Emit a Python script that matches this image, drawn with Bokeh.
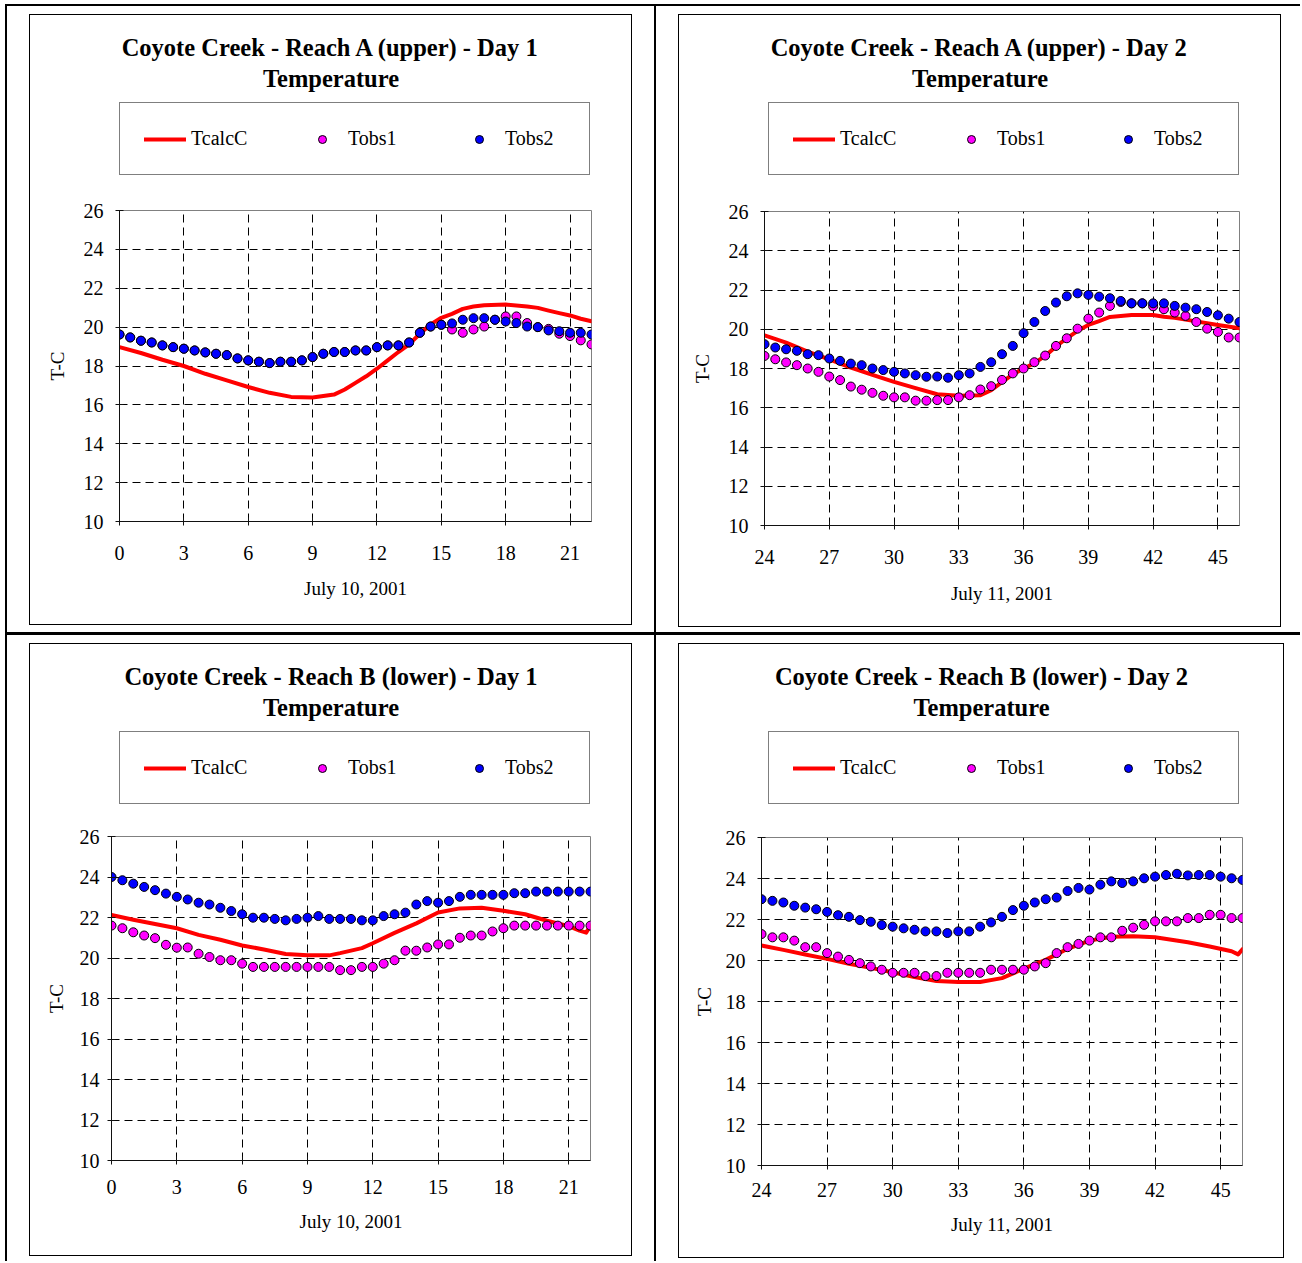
from bokeh.plotting import figure
from bokeh.models import Range1d, FixedTicker, Label, Legend, LegendItem, Row, Column
from bokeh.embed import file_html
from bokeh.resources import INLINE

FONT = "Liberation Serif"

# ---------------- data ----------------
day1_hours = [0, 0.5, 1, 1.5, 2, 2.5, 3, 3.5, 4, 4.5, 5, 5.5, 6, 6.5, 7, 7.5, 8, 8.5, 9, 9.5,
              10, 10.5, 11, 11.5, 12, 12.5, 13, 13.5, 14, 14.5, 15, 15.5, 16, 16.5, 17, 17.5,
              18, 18.5, 19, 19.5, 20, 20.5, 21, 21.5, 22]
day2_hours = [24, 24.5, 25, 25.5, 26, 26.5, 27, 27.5, 28, 28.5, 29, 29.5, 30, 30.5, 31, 31.5,
              32, 32.5, 33, 33.5, 34, 34.5, 35, 35.5, 36, 36.5, 37, 37.5, 38, 38.5, 39, 39.5,
              40, 40.5, 41, 41.5, 42, 42.5, 43, 43.5, 44, 44.5, 45, 45.5, 46]
day1_ticks = [0, 3, 6, 9, 12, 15, 18, 21]
day2_ticks = [24, 27, 30, 33, 36, 39, 42, 45]
y_ticks = [10, 12, 14, 16, 18, 20, 22, 24, 26]

# Reach A - Day 1
a1_tobs1 = [19.62, 19.47, 19.30, 19.21, 19.06, 18.97, 18.89, 18.80, 18.70, 18.63,
            18.56, 18.39, 18.29, 18.22, 18.15, 18.22, 18.22, 18.29, 18.46, 18.63,
            18.72, 18.72, 18.80, 18.80, 18.97, 19.06, 19.06, 19.21, 19.71, 20.03,
            20.12, 19.88, 19.71, 19.88, 20.03, 20.38, 20.55, 20.55, 20.21, 20.00,
            19.91, 19.66, 19.54, 19.32, 19.11]
a1_tobs2 = [19.62, 19.47, 19.30, 19.21, 19.06, 18.97, 18.89, 18.80, 18.70, 18.63,
            18.56, 18.39, 18.29, 18.22, 18.15, 18.22, 18.22, 18.29, 18.46, 18.63,
            18.72, 18.72, 18.80, 18.80, 18.97, 19.06, 19.06, 19.21, 19.71, 20.03,
            20.12, 20.19, 20.38, 20.46, 20.46, 20.38, 20.29, 20.21, 20.03, 20.00,
            19.83, 19.79, 19.71, 19.71, 19.62]
a1_calc_hours = [0, 1, 2, 3, 4, 5, 6, 7, 8, 9, 10, 10.5, 11, 11.5, 12, 12.5, 13, 13.5, 14,
                 14.5, 15, 15.5, 16, 16.5, 17, 18, 19, 19.5, 20, 20.5, 21, 21.5, 22]
a1_calc = [18.97, 18.67, 18.32, 18.00, 17.60, 17.26, 16.92, 16.62, 16.41, 16.38, 16.53,
           16.79, 17.13, 17.47, 17.86, 18.29, 18.72, 19.11, 19.66, 20.14, 20.48, 20.68,
           20.94, 21.06, 21.13, 21.16, 21.06, 20.99, 20.85, 20.72, 20.60, 20.43, 20.30]

# Reach A - Day 2
a2_tobs1 = [18.64, 18.47, 18.31, 18.17, 18.00, 17.83, 17.59, 17.41, 17.08, 16.92,
            16.76, 16.61, 16.53, 16.53, 16.36, 16.36, 16.39, 16.39, 16.53, 16.64,
            16.93, 17.10, 17.42, 17.75, 18.00, 18.32, 18.66, 19.15, 19.54, 20.03,
            20.54, 20.85, 21.19, 21.39, 21.32, 21.32, 21.17, 21.02, 20.85, 20.68,
            20.37, 20.03, 19.86, 19.58, 19.58]
a2_tobs2 = [19.24, 19.07, 18.98, 18.90, 18.73, 18.68, 18.51, 18.39, 18.25, 18.17,
            18.00, 17.92, 17.83, 17.75, 17.66, 17.58, 17.59, 17.53, 17.66, 17.75,
            18.08, 18.32, 18.73, 19.15, 19.80, 20.37, 20.93, 21.36, 21.68, 21.83,
            21.75, 21.66, 21.58, 21.44, 21.32, 21.32, 21.32, 21.32, 21.19, 21.10,
            21.02, 20.88, 20.71, 20.54, 20.37]
a2_calc_hours = [24, 25, 26, 27, 28, 29, 30, 31, 32, 33, 34, 34.5, 35, 35.5, 36, 36.5, 37,
                 37.5, 38, 38.5, 39, 39.5, 40, 41, 42, 42.5, 43, 44, 45, 46]
a2_calc = [19.69, 19.32, 18.86, 18.47, 18.05, 17.68, 17.32, 17.00, 16.69, 16.61, 16.64,
           16.90, 17.30, 17.70, 18.00, 18.27, 18.64, 19.12, 19.54, 19.92, 20.22, 20.42,
           20.63, 20.73, 20.73, 20.64, 20.58, 20.40, 20.22, 20.05]

# Reach B - Day 1
b1_tobs1 = [21.60, 21.47, 21.27, 21.11, 20.98, 20.65, 20.51, 20.52, 20.21, 20.05,
            19.89, 19.89, 19.72, 19.56, 19.56, 19.56, 19.56, 19.56, 19.56, 19.56,
            19.56, 19.40, 19.40, 19.56, 19.56, 19.72, 19.89, 20.36, 20.36, 20.52,
            20.67, 20.67, 21.00, 21.11, 21.11, 21.31, 21.47, 21.60, 21.60, 21.60,
            21.60, 21.60, 21.60, 21.60, 21.60]
b1_tobs2 = [24.00, 23.84, 23.67, 23.51, 23.35, 23.18, 23.02, 22.89, 22.73, 22.64,
            22.48, 22.32, 22.16, 21.99, 21.99, 21.93, 21.86, 21.93, 21.99, 22.07,
            21.93, 21.93, 21.93, 21.86, 21.86, 22.07, 22.16, 22.24, 22.64, 22.81,
            22.73, 22.81, 23.02, 23.12, 23.12, 23.12, 23.12, 23.20, 23.20, 23.28,
            23.28, 23.28, 23.28, 23.28, 23.28]
b1_calc_hours = [0, 1, 2, 3, 4, 5, 6, 7, 8, 9, 10, 10.5, 11.5, 12, 13, 14, 15, 16, 17, 18,
                 19, 20, 21, 21.5, 21.8, 22]
b1_calc = [22.12, 21.89, 21.68, 21.47, 21.14, 20.90, 20.62, 20.42, 20.20, 20.13, 20.13,
           20.24, 20.49, 20.73, 21.24, 21.71, 22.25, 22.45, 22.48, 22.33, 22.16, 21.84,
           21.57, 21.35, 21.25, 21.60]

# Reach B - Day 2
b2_tobs1 = [21.29, 21.13, 21.13, 20.97, 20.65, 20.65, 20.36, 20.19, 20.03, 19.87,
            19.71, 19.55, 19.40, 19.40, 19.40, 19.24, 19.24, 19.40, 19.40, 19.40,
            19.40, 19.55, 19.55, 19.55, 19.55, 19.71, 19.87, 20.36, 20.65, 20.81,
            20.97, 21.13, 21.13, 21.45, 21.60, 21.74, 21.91, 21.91, 21.91, 22.07,
            22.07, 22.23, 22.23, 22.07, 22.07]
b2_tobs2 = [22.99, 22.91, 22.83, 22.67, 22.58, 22.50, 22.37, 22.21, 22.13, 21.97,
            21.89, 21.73, 21.65, 21.57, 21.50, 21.42, 21.42, 21.34, 21.42, 21.42,
            21.65, 21.86, 22.13, 22.46, 22.67, 22.83, 22.99, 23.07, 23.39, 23.54,
            23.46, 23.70, 23.86, 23.78, 23.86, 24.01, 24.09, 24.17, 24.23, 24.15,
            24.17, 24.17, 24.09, 24.01, 23.93]
b2_calc_hours = [24, 25, 26, 27, 28, 29, 30, 31, 32, 33, 34, 35, 36, 37, 38, 39, 40, 41, 42,
                 43.5, 44.5, 45.5, 45.8, 46]
b2_calc = [20.73, 20.52, 20.29, 20.08, 19.84, 19.64, 19.43, 19.19, 19.00, 18.95, 18.95,
           19.14, 19.60, 20.03, 20.57, 20.97, 21.16, 21.18, 21.13, 20.89, 20.68, 20.45,
           20.30, 20.55]

titles = ["Coyote Creek - Reach A (upper) - Day 1", "Coyote Creek - Reach A (upper) - Day 2",
          "Coyote Creek - Reach B (lower) - Day 1", "Coyote Creek - Reach B (lower) - Day 2"]
subtitle = "Temperature"
x_labels = ["July 10, 2001", "July 11, 2001", "July 10, 2001", "July 11, 2001"]
y_label = "T-C"
series_names = ["TcalcC", "Tobs1", "Tobs2"]

CALC_STYLE = dict(line_color="#FF0000", line_width=4, line_join="round", line_cap="round")
OBS1_STYLE = dict(marker="circle", size=9, fill_color="#FF00FF", line_color="black", line_width=1)
OBS2_STYLE = dict(marker="circle", size=9, fill_color="#0000FF", line_color="black", line_width=1)
PAD_TOP = 15  # room above the plot frame for the top tick label


def make_chart(title, xlabel, hours, ticks, tobs1, tobs2, calc_hours, calc, geom, axcfg, margin):
    cw, ch, fl, ft, fw, fh = geom
    xs, xls, ys, yls = axcfg

    # ----- header: titles + legend (frame is aligned with the plot frame below) -----
    hh = ft - PAD_TOP
    hdr = figure(width=cw, height=hh, x_range=Range1d(0, 1), y_range=Range1d(0, 1),
                 output_backend="svg", toolbar_location=None, min_border=0,
                 x_axis_location=None, y_axis_location=None)
    hdr.outline_line_color = None
    hdr.grid.visible = False
    hdr.background_fill_color = "white"
    hdr.border_fill_color = "white"
    # same series, outside this header's view: used only for the legend swatches
    lr = hdr.line(calc_hours, calc, **CALC_STYLE)
    s1 = hdr.scatter(hours, tobs1, **OBS1_STYLE)
    s2 = hdr.scatter(hours, tobs2, **OBS2_STYLE)
    for txt, cy in ((title, 32), (subtitle, 63)):
        hdr.add_layout(Label(x=cw / 2 - fl, y=hh - cy, x_units="screen", y_units="screen",
                             text=txt, text_font=FONT, text_font_size="24.5px",
                             text_font_style="bold", text_align="center",
                             text_baseline="middle", text_color="black"))
    legend = Legend(items=[LegendItem(label=series_names[0], renderers=[lr]),
                           LegendItem(label=series_names[1], renderers=[s1]),
                           LegendItem(label=series_names[2], renderers=[s2])],
                    orientation="horizontal", location=(max(0, 89 - fl), hh - 160),
                    padding=24, spacing=50, glyph_width=42, glyph_height=20,
                    label_width=60, label_height=20, label_standoff=5, margin=0,
                    label_text_font=FONT, label_text_font_size="20px",
                    label_text_color="black", border_line_color="black",
                    border_line_width=1, background_fill_color="white",
                    background_fill_alpha=1.0)
    hdr.add_layout(legend, "center")

    # ----- plot -----
    ph = ch - ft + PAD_TOP
    p = figure(width=cw, height=ph, x_range=Range1d(hours[0], hours[-1]),
               y_range=Range1d(y_ticks[0], y_ticks[-1]), output_backend="svg",
               toolbar_location=None, min_border_left=fl, min_border_top=PAD_TOP,
               min_border_right=cw - fl - fw, min_border_bottom=ch - ft - fh)
    p.background_fill_color = "white"
    p.border_fill_color = "white"
    p.outline_line_color = "#808080"
    p.outline_line_width = 1

    for ax, tk in ((p.xaxis[0], ticks), (p.yaxis[0], y_ticks)):
        ax.ticker = FixedTicker(ticks=tk)
        ax.major_label_text_font = FONT
        ax.major_label_text_font_size = "20px"
        ax.major_label_text_color = "black"
        ax.axis_label_text_font = FONT
        ax.axis_label_text_font_size = "19px"
        ax.axis_label_text_font_style = "normal"
        ax.axis_label_text_color = "black"
        ax.major_tick_in = 4
        ax.major_tick_out = 4
        ax.minor_tick_line_color = None
        ax.axis_line_color = "#111111"
        ax.major_tick_line_color = "#111111"
    p.xaxis[0].axis_label = xlabel
    p.xaxis[0].major_label_standoff = xs
    p.xaxis[0].axis_label_standoff = xls
    p.yaxis[0].axis_label = y_label
    p.yaxis[0].major_label_standoff = ys
    p.yaxis[0].axis_label_standoff = yls

    p.xgrid.ticker = FixedTicker(ticks=ticks[1:])
    p.ygrid.ticker = FixedTicker(ticks=y_ticks[1:-1])
    for g in (p.xgrid, p.ygrid):
        g.grid_line_color = "black"
        g.grid_line_dash = "8 5"
        g.grid_line_width = 1

    p.line(calc_hours, calc, **CALC_STYLE)
    p.scatter(hours, tobs1, **OBS1_STYLE)
    p.scatter(hours, tobs2, **OBS2_STYLE)

    return Column(children=[hdr, p], margin=margin, styles={"border": "1px solid #000"})


# canvas w, canvas h, frame left, frame top, frame w, frame h
geoms = [(601, 609, 89, 195, 472, 311),
         (601, 611, 85, 196, 475, 314),
         (601, 611, 81, 192, 479, 324),
         (604, 613, 82, 193, 481, 328)]
# x tick standoff, x label standoff, y tick standoff, y label standoff
axcfgs = [(20, 15, 12, 13), (20, 16, 12, 13), (15, 14, 8, 10), (13, 14, 12, 8)]

c1 = make_chart(titles[0], x_labels[0], day1_hours, day1_ticks, a1_tobs1, a1_tobs2,
                a1_calc_hours, a1_calc, geoms[0], axcfgs[0], (8, 22, 7, 22))
c2 = make_chart(titles[1], x_labels[1], day2_hours, day2_ticks, a2_tobs1, a2_tobs2,
                a2_calc_hours, a2_calc, geoms[1], axcfgs[1], (8, 19, 5, 22))
c3 = make_chart(titles[2], x_labels[2], day1_hours, day1_ticks, b1_tobs1, b1_tobs2,
                b1_calc_hours, b1_calc, geoms[2], axcfgs[2], (8, 22, 5, 22))
c4 = make_chart(titles[3], x_labels[3], day2_hours, day2_ticks, b2_tobs1, b2_tobs2,
                b2_calc_hours, b2_calc, geoms[3], axcfgs[3], (8, 16, 3, 22))

cell1 = Column(children=[c1], styles={"border-right": "2px solid #000"})
cell2 = Column(children=[c2])
cell3 = Column(children=[c3], styles={"border-right": "2px solid #000"})
cell4 = Column(children=[c4])

row1 = Row(children=[cell1, cell2], styles={"border-bottom": "3px solid #000"})
row2 = Row(children=[cell3, cell4])
root = Column(children=[row1, row2],
              styles={"position": "relative", "left": "5px", "top": "4px",
                      "border-left": "2px solid #000", "border-top": "2px solid #000"})

open("out.html", "w").write(file_html(root, INLINE))
